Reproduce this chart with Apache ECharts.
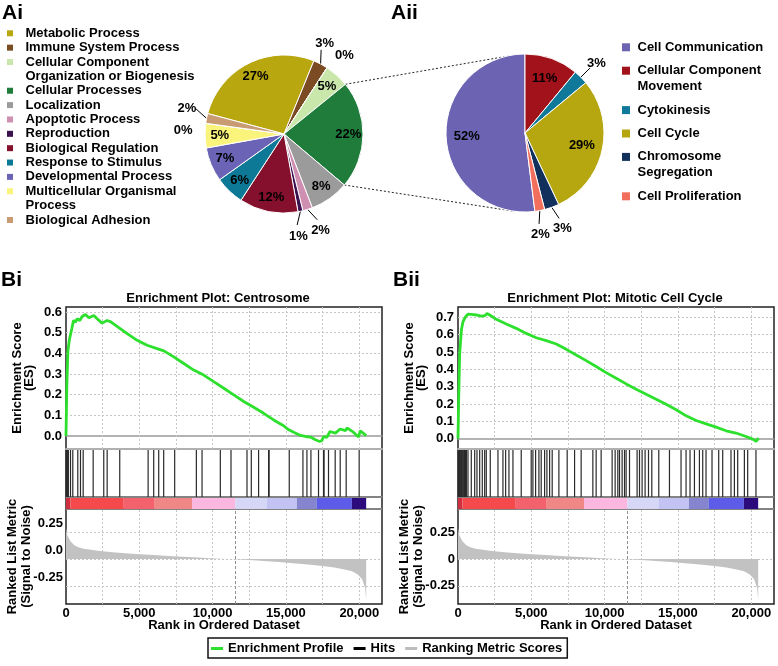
<!DOCTYPE html>
<html>
<head>
<meta charset="utf-8">
<title>GO pies and GSEA enrichment plots</title>
<script src="https://cdn.jsdelivr.net/npm/echarts@6.0.0/dist/echarts.min.js"></script>
<style>
  html, body { margin: 0; padding: 0; background: #fff; }
  #chart { width: 778px; height: 666px; }
</style>
</head>
<body>
<div id="chart"></div>
<script>
// ---------- data ----------
// Ai: GO biological process share (%), clockwise order of the pie
const aiSlices = ['Metabolic Process', 'Immune System Process', 'Unclassified A',
  'Cellular Component\nOrganization or Biogenesis', 'Cellular Processes', 'Localization',
  'Apoptotic Process', 'Reproduction', 'Biological Regulation', 'Response to Stimulus',
  'Developmental Process', 'Multicellular Organismal\nProcess', 'Unclassified B', 'Biological Adhesion']
const aiPercents = [27, 3, 0, 5, 22, 8, 2, 1, 12, 6, 7, 5, 0, 2]
const aiColors = ['#b8a70f', '#7b4b24', '#ffffff', '#c9e7ab', '#1f7c3b', '#9b9b9b',
  '#cf8fb0', '#3b1150', '#84102d', '#0d7996', '#6b64b6', '#faf47c', '#ffffff', '#c99b72']

// Aii: breakdown of "Cellular Processes" (%)
const aiiSlices = ['Cell Communication', 'Cellular Component\nMovement', 'Cytokinesis',
  'Cell Cycle', 'Chromosome\nSegregation', 'Cell Proliferation']
const aiiPercents = [52, 11, 3, 29, 3, 2]
const aiiColors = ['#6c64b2', '#a1121b', '#10799a', '#b6a60f', '#11305c', '#f26f5e']

// Bi / Bii: running enrichment score [rank, ES]
const esCentrosome = [[0, 0], [60, 0.25], [130, 0.41], [230, 0.466], [340, 0.47], [400, 0.52],
  [510, 0.559], [650, 0.551], [760, 0.567], [940, 0.559], [1100, 0.578], [1330, 0.588],
  [1560, 0.572], [1900, 0.583], [2120, 0.567], [2460, 0.546], [2800, 0.559], [3030, 0.553],
  [3600, 0.524], [4170, 0.495], [4850, 0.463], [5530, 0.439], [6210, 0.423], [6670, 0.412],
  [7350, 0.383], [8030, 0.351], [8710, 0.319], [9390, 0.295], [10070, 0.263], [10760, 0.231],
  [11440, 0.199], [12120, 0.167], [12800, 0.139], [13480, 0.11], [14160, 0.078], [14840, 0.05],
  [15190, 0.03], [15530, 0.018], [15980, 0.003], [16330, -0.002], [16670, -0.005], [17010, -0.018],
  [17300, -0.026], [17460, -0.021], [17570, -0.002], [17790, -0.006], [18000, 0.022], [18370, 0.014],
  [18700, 0.034], [19050, 0.026], [19160, 0.039], [19600, 0.019], [19950, -0.005], [20070, 0.026],
  [20470, 0.002]]
const esMitotic = [[0, 0], [45, 0.224], [115, 0.49], [230, 0.626], [340, 0.674], [520, 0.703],
  [680, 0.718], [910, 0.716], [1250, 0.713], [1590, 0.707], [1820, 0.709], [1980, 0.722],
  [2160, 0.713], [2610, 0.688], [3290, 0.661], [3970, 0.636], [4650, 0.607], [5340, 0.582],
  [6020, 0.565], [6700, 0.546], [7380, 0.515], [8060, 0.483], [8740, 0.45], [9420, 0.416],
  [10100, 0.381], [10790, 0.349], [11470, 0.316], [12150, 0.285], [12830, 0.257], [13510, 0.228],
  [14190, 0.199], [14880, 0.167], [15560, 0.132], [16240, 0.105], [16920, 0.086], [17600, 0.067],
  [18280, 0.046], [18960, 0.033], [19640, 0.013], [20100, -0.002], [20330, -0.015], [20440, -0.006],
  [20500, 0.004]]

// gene-set hits (rank positions)
const hitsCentrosome = [10, 45, 80, 123, 160, 307, 463, 804, 988, 1172, 1853, 2575, 2807, 3665,
  5600, 5981, 6322, 6662, 7411, 8890, 9278, 10525, 11253, 12343, 12636, 13134, 13815, 13850,
  15225, 16158, 16431, 16703, 17221, 17561, 17600, 17902, 18358, 18699, 19108, 19993]
const hitsMitotic = [15, 48, 70, 105, 140, 190, 230, 285, 330, 390, 440, 510, 575, 681, 906,
  1138, 1294, 1478, 1655, 1819, 1928, 2200, 2725, 3065, 3249, 3474, 3747, 4312, 4993, 5109,
  5293, 5518, 5674, 5906, 6063, 6247, 6424, 6880, 7446, 7950, 8399, 9196, 9421, 9762, 10511,
  10716, 10899, 11015, 11192, 11356, 11465, 11696, 12214, 12378, 12555, 12759, 12991, 13216,
  13692, 14421, 15211, 15552, 15824, 16124, 16464, 16689, 16914, 17323, 17779, 18052, 18617,
  18849, 19074, 19530, 19755, 20320]

// ranked list metric (signal to noise) [rank, value]
const rankedMetric = [[0, 0.29], [100, 0.22], [300, 0.165], [550, 0.13], [800, 0.113],
  [1200, 0.097], [1700, 0.087], [2300, 0.076], [3000, 0.066], [4000, 0.054], [5000, 0.045],
  [6000, 0.037], [7000, 0.029], [8000, 0.022], [9000, 0.014], [9800, 0.007], [10500, 0.003],
  [11500, -0.002], [12500, -0.01], [13500, -0.019], [14500, -0.029], [15500, -0.04],
  [16500, -0.052], [17500, -0.066], [18300, -0.08], [19000, -0.097], [19500, -0.115],
  [19900, -0.145], [20200, -0.19], [20400, -0.27], [20470, -0.38]]
const zeroCrossRank = 11550

// heat bar under the hits: [fromRank, toRank]
const colorBarBlocks = [[0, 306], [306, 3940], [3940, 6050], [6050, 8594], [8594, 11546],
  [11546, 13703], [13703, 15747], [15747, 17110], [17110, 19494], [19494, 20470]]
const colorBarColors = ['#cf2f3f', '#f44a4c', '#f3616c', '#ef8787', '#fbb7df', '#d6d6f6',
  '#c3c3f3', '#8585cf', '#5c5ce8', '#2c0c7c']

// tick labels
const esTicksCentrosome = [0, 0.1, 0.2, 0.3, 0.4, 0.5, 0.6]
const esTicksMitotic = [0, 0.1, 0.2, 0.3, 0.4, 0.5, 0.6, 0.7]
const metricTicks = [-0.25, 0, 0.25]
const rankGridStep = 2500

// ---------- chart ----------
const FONT = '"Liberation Sans", Arial, sans-serif'
const txt = { fontFamily: FONT, fontWeight: 'bold', fontSize: 13, color: '#000' }
const chart = echarts.init(document.getElementById('chart'))

// 小扇区的外部标签：沿扇区中线放在饼外，相邻太近时按角度错开
function outsideLabelLayout(center, r, start, values) {
  const mids = []
  let acc = 0
  values.forEach(v => { mids.push(start - (acc + v / 2) * 3.6); acc += v })
  const shown = mids.map(m => m)
  const small = values.map((v, i) => i).filter(i => values[i] < 5)
  const sep = 13
  for (let k = 0; k < small.length - 1; k++) {
    const a = small[k]
    const b = small[k + 1]
    if (shown[a] - shown[b] < sep) {
      const m = (shown[a] + shown[b]) / 2
      shown[a] = m + sep / 2
      shown[b] = m - sep / 2
    }
  }
  const at = (rad, deg) => {
    const t = deg * Math.PI / 180
    return [center[0] + rad * Math.cos(t), center[1] - rad * Math.sin(t)]
  }
  return params => {
    const i = params.dataIndex
    if (values[i] >= 5) return {}
    const pos = at(r + 22, shown[i])
    const edge = at(r, mids[i])
    const bend = at(r + 13, shown[i])
    return { x: pos[0], y: pos[1] + 2, align: 'center', verticalAlign: 'middle',
      labelLinePoints: [edge, bend, bend] }
  }
}

// 两个饼图：外部小标签 + 透明覆盖层放内部标签
function pieSeries(names, values, colors, center, radius, startAngle, innerRatio) {
  const main = {
    type: 'pie',
    center: center,
    radius: radius,
    startAngle: startAngle,
    avoidLabelOverlap: false,
    itemStyle: { borderColor: '#fff', borderWidth: 1 },
    label: { position: 'outside', formatter: p => p.value + '%', ...txt },
    labelLine: { length: 10, length2: 2, lineStyle: { color: '#000', width: 1 } },
    labelLayout: outsideLabelLayout(center, radius, startAngle, values),
    emphasis: { disabled: true },
    data: names.map((n, i) => ({
      name: n,
      value: values[i],
      itemStyle: { color: colors[i] },
      label: { show: values[i] < 5 },
      labelLine: { show: values[i] < 5 && values[i] > 0 }
    }))
  }
  const overlay = {
    type: 'pie',
    silent: true,
    center: center,
    radius: [radius * innerRatio, radius],
    startAngle: startAngle,
    itemStyle: { color: 'rgba(0,0,0,0)', borderWidth: 0 },
    label: { position: 'inside', formatter: p => p.value + '%', ...txt },
    labelLine: { show: false },
    emphasis: { disabled: true },
    data: names.map((n, i) => ({ name: n, value: values[i], label: { show: values[i] >= 5 } }))
  }
  return [main, overlay]
}

const aiCenter = [284, 134]
const aiiCenter = [525, 133]
const pieR = 79
const aiStart = 165
const aiiStart = 90 + aiiPercents[0] * 3.6

// legends of the pies as graphic items
function pieLegend(names, colors, opt) {
  const items = []
  let line = 0
  names.forEach((n, i) => {
    if (n.startsWith('Unclassified')) return
    const cy = opt.top + line * opt.lineH + items.length / 2 * opt.extraGap
    items.push({
      type: 'rect', shape: { x: opt.x, y: cy - opt.box / 2, width: opt.box, height: opt.box },
      style: { fill: colors[i] }, silent: true
    })
    items.push({
      type: 'text', x: opt.textX, y: cy - opt.lineH / 2, silent: true,
      style: { text: n, font: 'bold 13px ' + FONT, fill: '#000', lineHeight: opt.lineH, verticalAlign: 'top' }
    })
    line += n.split('\n').length
  })
  return items
}

function polar(c, r, deg) {
  const a = deg * Math.PI / 180
  return [c[0] + r * Math.cos(a), c[1] - r * Math.sin(a)]
}
// 连接线：Cellular Processes 扇区两边 -> 右侧饼图
const cpIndex = aiSlices.indexOf('Cellular Processes')
const cpBefore = aiPercents.slice(0, cpIndex).reduce((a, b) => a + b, 0)
const cpFrom = aiStart - cpBefore * 3.6
const cpTo = cpFrom - aiPercents[cpIndex] * 3.6
const p1 = polar(aiCenter, pieR, cpFrom)
const p2 = polar(aiiCenter, pieR, 105)
const p3 = polar(aiCenter, pieR, cpTo)
const p4 = polar(aiiCenter, pieR, -99)
const connectors = [[p1, p2], [p3, p4]].map(s => ({
  type: 'line', silent: true,
  shape: { x1: s[0][0], y1: s[0][1], x2: s[1][0], y2: s[1][1] },
  style: { stroke: '#222', lineWidth: 1, lineDash: [2, 2] }
}))

// ---------- GSEA panels ----------
const rankMax = 21550
const panels = [
  { left: 66, es: esCentrosome, hits: hitsCentrosome, esMin: -0.0625, esMax: 0.624, esTicks: esTicksCentrosome, zero: '0.0', raised: true },
  { left: 458, es: esMitotic, hits: hitsMitotic, esMin: -0.059, esMax: 0.759, esTicks: esTicksMitotic, zero: '0', raised: false }
]
const grids = []
const xAxes = []
const yAxes = []
const series = []
const hiddenY = { type: 'value', min: 0, max: 1, show: false }
const sepLine = (w, c) => ({ show: true, onZero: false, lineStyle: { color: c, width: w } })
// 网格线用 markLine 画（虚点线）
const gridStyle = { color: '#c6c6c6', type: [2, 2], width: 1 }
const xGridLines = []
for (let v = rankGridStep; v < rankMax - rankGridStep / 2; v += rankGridStep) xGridLines.push({ xAxis: v })
const gridMarks = yValues => ({
  silent: true, symbol: 'none', label: { show: false }, lineStyle: gridStyle, z: 1,
  data: xGridLines.concat(yValues.map(v => ({ yAxis: v })))
})

panels.forEach(p => {
  const g = grids.length
  const box = { left: p.left, width: 316, show: true, backgroundColor: 'transparent',
    borderColor: '#222', borderWidth: 1.5, outerBoundsMode: 'none' }
  grids.push({ ...box, top: 307, height: 142 })
  grids.push({ ...box, top: 449, height: 48 })
  grids.push({ ...box, top: 497, height: 12 })
  grids.push({ ...box, top: 509, height: 95 })

  const xBase = { type: 'value', min: 0, max: rankMax, interval: rankGridStep,
    axisTick: { show: false }, axisLabel: { show: false }, splitLine: { show: false } }
  const xEs = xAxes.length
  xAxes.push({ ...xBase, gridIndex: g, axisLine: { show: true, onZero: true, lineStyle: { color: '#9a9a9a', width: 1.5 } } })
  const xHits = xAxes.length
  xAxes.push({ ...xBase, gridIndex: g + 1, position: 'top', axisLine: sepLine(2, '#b0b0b0') })
  const xBar = xAxes.length
  xAxes.push({ ...xBase, gridIndex: g + 2, position: 'top', axisLine: sepLine(1.5, '#a0a0a0') })
  const xRank = xAxes.length
  xAxes.push({
    ...xBase, gridIndex: g + 3, position: 'bottom',
    axisLine: { show: false, onZero: false },
    axisLabel: { show: true, margin: 3, ...txt, showMaxLabel: false,
      formatter: v => (v % 5000 === 0 ? v.toLocaleString('en-US') : '') },
    name: 'Rank in Ordered Dataset', nameLocation: 'middle', nameGap: 15, nameTextStyle: txt, nameMoveOverlap: false
  })
  xAxes.push({ ...xBase, gridIndex: g + 3, position: 'top', axisLine: sepLine(1.5, '#a0a0a0') })

  const yEs = yAxes.length
  yAxes.push({
    type: 'value', gridIndex: g, min: p.esMin, max: p.esMax,
    axisLine: { show: false }, axisTick: { show: false, customValues: p.esTicks },
    axisLabel: { customValues: p.esTicks, formatter: v => v.toFixed(1), margin: 4, ...txt },
    splitLine: { show: false },
    name: 'Enrichment Score\n(ES)', nameLocation: 'middle', nameRotate: 90, nameGap: 31,
    nameTextStyle: { ...txt, lineHeight: 12 }, nameMoveOverlap: false
  })
  const yHits = yAxes.length
  yAxes.push({ ...hiddenY, gridIndex: g + 1 })
  const yBar = yAxes.length
  yAxes.push({ ...hiddenY, gridIndex: g + 2 })
  const yRank = yAxes.length
  const rankLabel = { customValues: metricTicks, margin: 3, ...txt,
    formatter: v => (v === 0 ? p.zero : String(v)) }
  if (p.raised) { rankLabel.verticalAlign = 'bottom'; rankLabel.lineHeight = 17 }
  yAxes.push({
    type: 'value', gridIndex: g + 3, min: -0.42, max: 0.467,
    axisLine: { show: false }, axisTick: { show: false, customValues: metricTicks },
    axisLabel: rankLabel,
    splitLine: { show: false },
    name: 'Ranked List Metric\n(Signal to Noise)', nameLocation: 'middle', nameRotate: 90, nameGap: 33,
    nameTextStyle: { ...txt, lineHeight: 14 }, nameMoveOverlap: false
  })

  series.push({
    name: 'Enrichment Profile', type: 'line', xAxisIndex: xEs, yAxisIndex: yEs,
    data: p.es, showSymbol: false, z: 10,
    lineStyle: { color: '#2ee02e', width: 2.8 }, itemStyle: { color: '#2ee02e' },
    markLine: gridMarks(p.esTicks.filter(v => v !== 0))
  })
  series.push({
    name: 'Hits', type: 'custom', xAxisIndex: xHits, yAxisIndex: yHits,
    itemStyle: { color: '#000' },
    encode: { x: 0, y: [1, 2] },
    data: p.hits.map(r => [r, 0, 1]),
    renderItem: (params, api) => {
      const top = api.coord([api.value(0), api.value(2)])
      const bottom = api.coord([api.value(0), api.value(1)])
      return { type: 'line', shape: { x1: top[0], y1: top[1] + 1, x2: bottom[0], y2: bottom[1] },
        style: { stroke: '#2a2a2a', lineWidth: 1.2 } }
    }
  })
  series.push({
    name: 'Heat', type: 'custom', xAxisIndex: xBar, yAxisIndex: yBar,
    encode: { x: [0, 1] },
    data: colorBarBlocks.map((b, i) => [b[0], b[1], i]),
    renderItem: (params, api) => {
      const a = api.coord([api.value(0), 1])
      const b = api.coord([api.value(1), 0])
      return { type: 'rect', shape: { x: a[0], y: a[1] + 1, width: b[0] - a[0], height: b[1] - a[1] - 1 },
        style: { fill: colorBarColors[api.value(2)] } }
    }
  })
  const rankMarks = gridMarks(metricTicks)
  rankMarks.data = rankMarks.data.concat([{ xAxis: zeroCrossRank, lineStyle: { type: [3, 2], color: '#8e8e8e', width: 1 } }])
  series.push({
    name: 'Ranking Metric Scores', type: 'line', xAxisIndex: xRank, yAxisIndex: yRank,
    data: rankedMetric, showSymbol: false, z: 10,
    lineStyle: { width: 0 }, itemStyle: { color: '#bdbdbd' },
    areaStyle: { color: '#c2c2c2', opacity: 1 },
    markLine: rankMarks
  })
})

const letter = { fontFamily: FONT, fontWeight: 'bold', fontSize: 21, color: '#000' }
const option = {
  animation: false,
  backgroundColor: '#fff',
  title: [
    { text: 'Ai', left: 2, top: 3, padding: 0, textStyle: letter },
    { text: 'Aii', left: 391, top: 3, padding: 0, textStyle: letter },
    { text: 'Bi', left: 1, top: 270, padding: 0, textStyle: letter },
    { text: 'Bii', left: 393, top: 270, padding: 0, textStyle: letter },
    { text: 'Enrichment Plot: Centrosome', left: 218, top: 292, textAlign: 'center', padding: 0, textStyle: txt },
    { text: 'Enrichment Plot: Mitotic Cell Cycle', left: 615, top: 292, textAlign: 'center', padding: 0, textStyle: txt }
  ],
  legend: {
    data: ['Enrichment Profile', 'Hits', 'Ranking Metric Scores'],
    left: 208, top: 638, icon: 'rect', itemWidth: 12, itemHeight: 3, itemGap: 10,
    selectedMode: false, textStyle: txt,
    borderColor: '#111', borderWidth: 1.5, padding: [4, 5, 3, 3]
  },
  grid: grids,
  xAxis: xAxes,
  yAxis: yAxes,
  series: [
    ...pieSeries(aiSlices, aiPercents, aiColors, aiCenter, pieR, aiStart, 0.55),
    ...pieSeries(aiiSlices, aiiPercents, aiiColors, aiiCenter, pieR, aiiStart, 0.4),
    ...series
  ],
  graphic: [
    ...pieLegend(aiSlices, aiColors, { x: 7, box: 6, textX: 25.5, top: 33.3, lineH: 14.36, extraGap: 0 }),
    ...pieLegend(aiiSlices, aiiColors, { x: 622, box: 8, textX: 637.5, top: 47.3, lineH: 16, extraGap: 7.4 }),
    ...connectors
  ]
}
chart.setOption(option)
</script>
</body>
</html>
